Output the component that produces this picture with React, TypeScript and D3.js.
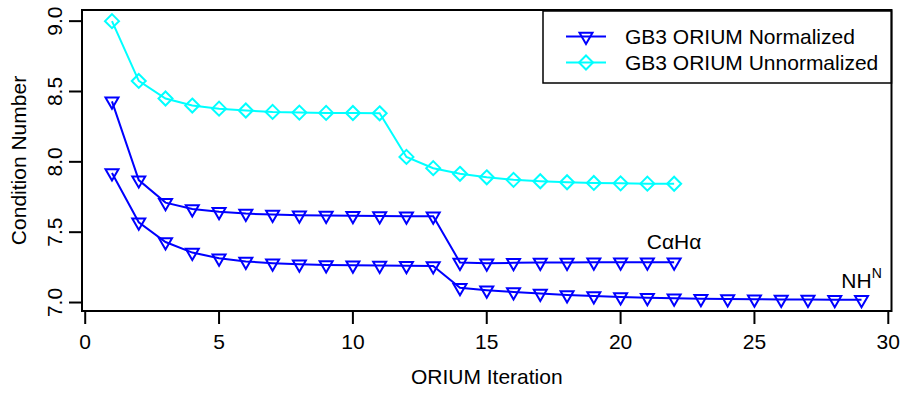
import React from 'react';
import * as d3 from 'd3';

// ---- data ----
const caHaIter = [1, 2, 3, 4, 5, 6, 7, 8, 9, 10, 11, 12, 13, 14, 15, 16, 17, 18, 19, 20, 21, 22];
const caHaValues = [8.43, 7.87, 7.71, 7.665, 7.645, 7.632, 7.625, 7.62, 7.618, 7.616, 7.615, 7.614, 7.613,
  7.285, 7.28, 7.282, 7.284, 7.285, 7.286, 7.287, 7.287, 7.287];

const nhIter = [1, 2, 3, 4, 5, 6, 7, 8, 9, 10, 11, 12, 13, 14, 15, 16, 17, 18, 19, 20, 21, 22, 23, 24, 25, 26, 27, 28, 29];
const nhValues = [7.92, 7.57, 7.43, 7.355, 7.315, 7.292, 7.28, 7.272, 7.267, 7.265, 7.263, 7.262, 7.26,
  7.105, 7.088, 7.075, 7.064, 7.054, 7.046, 7.039, 7.034, 7.03, 7.027, 7.025, 7.023, 7.022, 7.021, 7.02, 7.019];

const unnormIter = [1, 2, 3, 4, 5, 6, 7, 8, 9, 10, 11, 12, 13, 14, 15, 16, 17, 18, 19, 20, 21, 22];
const unnormValues = [9.0, 8.575, 8.45, 8.4, 8.378, 8.365, 8.355, 8.35, 8.348, 8.347, 8.345,
  8.035, 7.955, 7.915, 7.89, 7.872, 7.862, 7.855, 7.85, 7.847, 7.845, 7.844];

const xTicks = [0, 5, 10, 15, 20, 25, 30];
const xTickLabels = ['0', '5', '10', '15', '20', '25', '30'];
const yTicks = [7.0, 7.5, 8.0, 8.5, 9.0];
const yTickLabels = ['7.0', '7.5', '8.0', '8.5', '9.0'];

const legendLabels = ['GB3 ORIUM Normalized', 'GB3 ORIUM Unnormalized'];
const annotationX = [22, 29];
const annotationY = [7.434, 7.16];

const BLUE = '#0000FF';
const CYAN = '#00FFFF';
const FONT = '"Liberation Sans", Arial, Helvetica, sans-serif';
const FS = 21;

const W = 902, H = 394;
const PL = 82, PR = 891.5, PT = 10, PB = 311;

function tri(cx: number, cy: number) {
  return `M${cx - 6.5},${cy - 3.75}L${cx + 6.5},${cy - 3.75}L${cx},${cy + 7.5}Z`;
}
function diamond(cx: number, cy: number) {
  return `M${cx},${cy - 7}L${cx + 7},${cy}L${cx},${cy + 7}L${cx - 7},${cy}Z`;
}

export default function App() {
  const allX = [...caHaIter, ...nhIter, ...unnormIter];
  const allY = [...caHaValues, ...nhValues, ...unnormValues];
  const [x0, x1] = d3.extent(allX) as [number, number];
  const [y0, y1] = d3.extent(allY) as [number, number];
  const px = (x1 - x0) * 0.04, py = (y1 - y0) * 0.04;
  const x = d3.scaleLinear().domain([x0 - px, x1 + px]).range([PL, PR]);
  const y = d3.scaleLinear().domain([y0 - py, y1 + py]).range([PB, PT]);

  const line = d3.line<[number, number]>().x(d => x(d[0])).y(d => y(d[1]));
  const caHa: [number, number][] = caHaIter.map((v, i) => [v, caHaValues[i]]);
  const nh: [number, number][] = nhIter.map((v, i) => [v, nhValues[i]]);
  const un: [number, number][] = unnormIter.map((v, i) => [v, unnormValues[i]]);

  const legRows = [36.5, 62.5];

  return (
    <svg width={W} height={H} style={{ position: 'absolute', left: 0, top: 0, background: '#fff' }}
      fontFamily={FONT}>
      <rect x={0} y={0} width={W} height={H} fill="#fff" />
      {/* series */}
      <path d={line(un) || ''} fill="none" stroke={CYAN} strokeWidth={2} />
      {un.map((d, i) => <path key={'u' + i} d={diamond(x(d[0]), y(d[1]))} fill="none" stroke={CYAN} strokeWidth={2} />)}
      <path d={line(caHa) || ''} fill="none" stroke={BLUE} strokeWidth={2} />
      {caHa.map((d, i) => <path key={'c' + i} d={tri(x(d[0]), y(d[1]))} fill="none" stroke={BLUE} strokeWidth={2} />)}
      <path d={line(nh) || ''} fill="none" stroke={BLUE} strokeWidth={2} />
      {nh.map((d, i) => <path key={'n' + i} d={tri(x(d[0]), y(d[1]))} fill="none" stroke={BLUE} strokeWidth={2} />)}

      {/* box */}
      <rect x={PL} y={PT} width={PR - PL} height={PB - PT} fill="none" stroke="#000" strokeWidth={2} />

      {/* x axis */}
      <line x1={x(xTicks[0])} x2={x(xTicks[xTicks.length - 1])} y1={PB} y2={PB} stroke="#000" strokeWidth={2} />
      {xTicks.map((t, i) => (
        <g key={'xt' + i}>
          <line x1={x(t)} x2={x(t)} y1={PB} y2={PB + 13} stroke="#000" strokeWidth={2} />
          <text x={x(t)} y={348.5} fontSize={FS} textAnchor="middle" fill="#000">{xTickLabels[i]}</text>
        </g>
      ))}
      <text x={(PL + PR) / 2} y={384} fontSize={FS} textAnchor="middle" fill="#000">ORIUM Iteration</text>

      {/* y axis */}
      <line x1={PL} x2={PL} y1={y(yTicks[0])} y2={y(yTicks[yTicks.length - 1])} stroke="#000" strokeWidth={2} />
      {yTicks.map((t, i) => (
        <g key={'yt' + i}>
          <line x1={PL - 13} x2={PL} y1={y(t)} y2={y(t)} stroke="#000" strokeWidth={2} />
          <text transform={`translate(62,${y(t)}) rotate(-90)`} fontSize={FS} textAnchor="middle" fill="#000">{yTickLabels[i]}</text>
        </g>
      ))}
      <text transform={`translate(25.5,${(PT + PB) / 2}) rotate(-90)`} fontSize={FS} textAnchor="middle" fill="#000">Condition Number</text>

      {/* annotations */}
      <text x={x(annotationX[0])} y={y(annotationY[0]) + 7.5} fontSize={FS} textAnchor="middle" fill="#000">CαHα</text>
      <text x={x(annotationX[1])} y={y(annotationY[1]) + 7.5} fontSize={FS} textAnchor="middle" fill="#000">
        <tspan>NH</tspan><tspan dy={-10} fontSize={14}>N</tspan>
      </text>

      {/* legend */}
      <rect x={543} y={PT + 1} width={PR - 543} height={83 - PT - 1} fill="none" stroke="#000" strokeWidth={1.5} />
      {legendLabels.map((lab, i) => (
        <g key={'lg' + i}>
          <line x1={566} x2={606} y1={legRows[i]} y2={legRows[i]} stroke={i === 0 ? BLUE : CYAN} strokeWidth={2} />
          <path d={i === 0 ? tri(586, legRows[i]) : diamond(586, legRows[i])} fill="none" stroke={i === 0 ? BLUE : CYAN} strokeWidth={2} />
          <text x={625} y={legRows[i] + 7.5} fontSize={FS} fill="#000">{lab}</text>
        </g>
      ))}
    </svg>
  );
}
